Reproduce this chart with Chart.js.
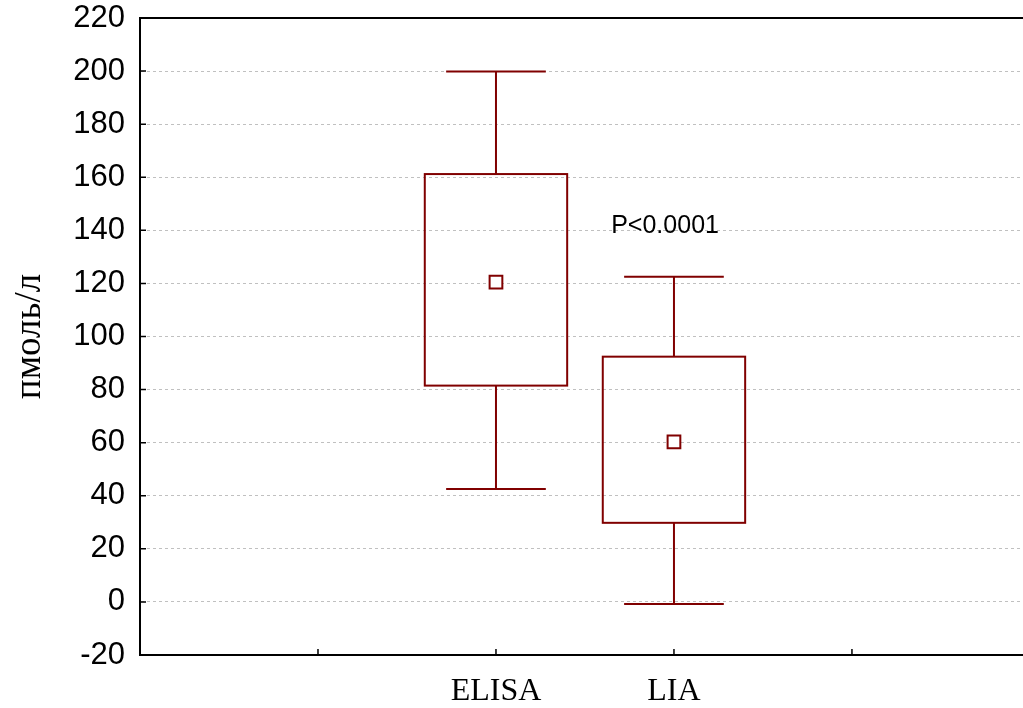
<!DOCTYPE html>
<html>
<head>
<meta charset="utf-8">
<script src="https://cdn.jsdelivr.net/npm/chart.js@4.4.0/dist/chart.umd.min.js"></script>
<style>
  html, body { margin: 0; padding: 0; background: #fff; }
  #wrap { width: 1023px; height: 708px; }
</style>
</head>
<body>
<div id="wrap"><canvas id="chart"></canvas></div>
<script>
(function(){
  'use strict';

  // data
  const categories = ['ELISA', 'LIA'];
  const catPositions = [2, 3];
  const whiskerLow = [42.5, -0.8];
  const boxLow = [81.5, 29.8];
  const means = [120.5, 60.3];
  const boxHigh = [161.2, 92.4];
  const whiskerHigh = [199.8, 122.5];
  const yTicks = [-20, 0, 20, 40, 60, 80, 100, 120, 140, 160, 180, 200, 220];
  const xTicks = [1, 2, 3, 4];
  const pText = 'P<0.0001';
  const pAt = [2.95, 139];

  const RED = '#800000';
  const BOX_HALF = 0.4;
  const CAP_HALF = 0.28;

  const boxPlugin = {
    id: 'boxes',
    beforeDatasetsDraw(chart) {
      const { ctx } = chart;
      const x = chart.scales.x;
      const y = chart.scales.y;
      ctx.save();
      ctx.strokeStyle = RED;
      ctx.lineWidth = 2;
      catPositions.forEach((pos, i) => {
        const l = x.getPixelForValue(pos - BOX_HALF);
        const r = x.getPixelForValue(pos + BOX_HALF);
        const c = x.getPixelForValue(pos);
        const cl = x.getPixelForValue(pos - CAP_HALF);
        const cr = x.getPixelForValue(pos + CAP_HALF);
        const q1 = y.getPixelForValue(boxLow[i]);
        const q3 = y.getPixelForValue(boxHigh[i]);
        const lo = y.getPixelForValue(whiskerLow[i]);
        const hi = y.getPixelForValue(whiskerHigh[i]);
        ctx.strokeRect(l, q3, r - l, q1 - q3);
        ctx.beginPath();
        ctx.moveTo(c, q3); ctx.lineTo(c, hi);
        ctx.moveTo(cl, hi); ctx.lineTo(cr, hi);
        ctx.moveTo(c, q1); ctx.lineTo(c, lo);
        ctx.moveTo(cl, lo); ctx.lineTo(cr, lo);
        ctx.stroke();
      });
      ctx.restore();
    },
    afterDraw(chart) {
      const { ctx, chartArea } = chart;
      const x = chart.scales.x;
      const y = chart.scales.y;
      ctx.save();
      // frame top line and inward ticks
      ctx.strokeStyle = '#000';
      ctx.lineWidth = 2;
      ctx.beginPath();
      ctx.moveTo(chartArea.left, chartArea.top);
      ctx.lineTo(chartArea.right, chartArea.top);
      ctx.stroke();
      ctx.lineWidth = 1.5;
      ctx.beginPath();
      yTicks.forEach((v) => {
        const py = y.getPixelForValue(v);
        ctx.moveTo(chartArea.left, py);
        ctx.lineTo(chartArea.left + 6, py);
      });
      xTicks.forEach((v) => {
        const px = x.getPixelForValue(v);
        ctx.moveTo(px, chartArea.bottom);
        ctx.lineTo(px, chartArea.bottom - 6);
      });
      ctx.stroke();
      // p-value note
      ctx.fillStyle = '#000';
      ctx.font = '25px "Liberation Sans", Arial, sans-serif';
      ctx.textAlign = 'center';
      ctx.textBaseline = 'alphabetic';
      ctx.fillText(pText, x.getPixelForValue(pAt[0]), y.getPixelForValue(pAt[1]));
      ctx.restore();
    }
  };

  new Chart(document.getElementById('chart'), {
    type: 'scatter',
    data: {
      datasets: [{
        label: 'mean',
        data: catPositions.map((p, i) => ({ x: p, y: means[i] })),
        pointStyle: 'rect',
        pointRadius: 9,
        pointHoverRadius: 9,
        borderColor: RED,
        backgroundColor: '#fff',
        borderWidth: 2
      }]
    },
    options: {
      responsive: true,
      maintainAspectRatio: false,
      animation: false,
      events: [],
      layout: { autoPadding: false, padding: { top: 18, right: 0, bottom: 0, left: 0 } },
      plugins: { legend: { display: false }, tooltip: { enabled: false } },
      scales: {
        x: {
          type: 'linear',
          min: 0,
          max: 4.961,
          afterFit: (s) => { s.height = 53; s.paddingLeft = 0; s.paddingRight = 0; },
          afterBuildTicks: (s) => { s.ticks = catPositions.map((v) => ({ value: v })); },
          ticks: {
            padding: 17,
            color: '#000',
            font: { family: '"Liberation Serif", "Times New Roman", serif', size: 32 },
            callback: (v) => categories[catPositions.indexOf(v)] || ''
          },
          grid: { display: false, drawTicks: false },
          border: { display: true, color: '#000', width: 2 }
        },
        y: {
          min: -20,
          max: 220,
          afterFit: (s) => { s.width = 140; s.paddingTop = 0; s.paddingBottom = 0; },
          afterBuildTicks: (s) => { s.ticks = yTicks.map((v) => ({ value: v })); },
          ticks: {
            padding: 15,
            color: '#000',
            font: { family: '"Liberation Sans", Arial, sans-serif', size: 31 }
          },
          grid: {
            drawTicks: false,
            lineWidth: 1,
            color: (c) => (c.tick && (c.tick.value === -20 || c.tick.value === 220)) ? 'rgba(0,0,0,0)' : '#c0c0c0'
          },
          border: { display: true, color: '#000', width: 2, dash: [3, 3] },
          title: {
            display: true,
            text: 'пмоль/л',
            color: '#000',
            padding: { top: 8, bottom: 0 },
            font: { family: '"Liberation Serif", "Times New Roman", serif', size: 37 }
          }
        }
      }
    },
    plugins: [boxPlugin]
  });
})();
</script>
</body>
</html>
